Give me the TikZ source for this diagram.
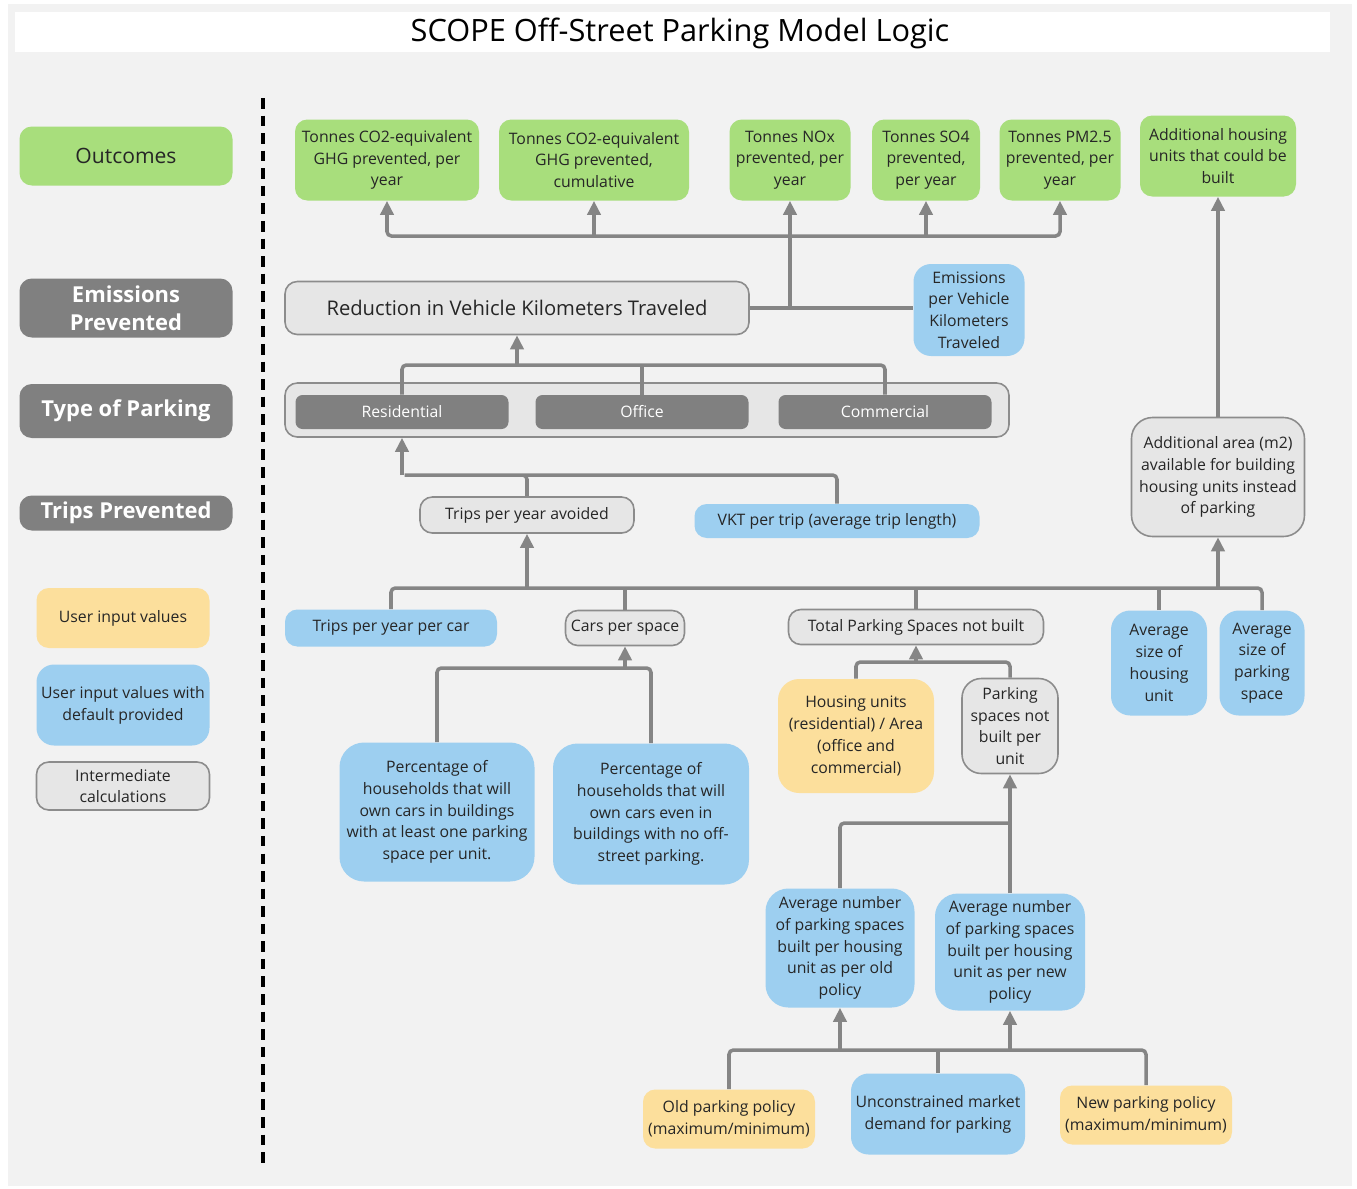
\documentclass[tikz,border=0pt]{standalone}
\usepackage{fontspec}
\setmainfont{Open Sans}
\usetikzlibrary{arrows.meta}
\definecolor{bggray}{HTML}{F2F2F2}
\definecolor{outgreen}{HTML}{A8DE7C}
\definecolor{inblue}{HTML}{9DCFF0}
\definecolor{inyellow}{HTML}{FCDF9C}
\definecolor{stagegray}{HTML}{808080}
\definecolor{calcfill}{HTML}{E6E6E6}
\definecolor{calcline}{HTML}{8C8C8C}
\definecolor{linkgray}{HTML}{858585}
\definecolor{inktext}{HTML}{262626}
\begin{document}
\begin{tikzpicture}[x=0.02cm,y=-0.02cm,
    box/.style n args={2}{align=center,inner sep=0pt,rounded corners=7pt,
      text=inktext,font=\fontsize{9}{12.4}\selectfont,
      minimum width=#1*0.02cm,minimum height=#2*0.02cm},
    outbox/.style={fill=outgreen},
    userbox/.style={fill=inyellow},
    defbox/.style={fill=inblue},
    calcbox/.style={fill=calcfill,draw=calcline,line width=0.9pt},
    stagebox/.style={fill=stagegray,text=white},
    link/.style={draw=linkgray,line width=2pt,rounded corners=2.5pt},
    arr/.style={link,-{Triangle[length=8pt,width=7.5pt]}}]
    \useasboundingbox (0,0) rectangle (1357,1188);
    \fill[white] (0,0) rectangle (1357,1188);
    \fill[bggray] (8,4) rectangle (1352,1186);
    \fill[white] (15,12) rectangle (1330,52);
    \node (title) at (680,33) {\fontsize{17.5}{20}\selectfont SCOPE Off-Street Parking Model Logic};

    \node[box={213}{59},outbox,font=\fontsize{12}{15}\selectfont] (legout) at (126,156) {Outcomes};
    \node[box={213}{59},stagebox,font=\fontsize{12.5}{16}\selectfont\bfseries] (legemis) at (126,308) {Emissions\\Prevented};
    \node[box={213}{54},stagebox,font=\fontsize{12.5}{15}\selectfont\bfseries] (legtype) at (126,411) {Type of Parking};
    \node[box={213}{35},stagebox,font=\fontsize{12.5}{15}\selectfont\bfseries] (legtrips) at (126,513) {Trips Prevented};
    \node[box={173}{60},userbox] (leguser) at (123,618) {User input values};
    \node[box={173}{81},defbox,rounded corners=10pt] (legdef) at (123,705) {User input values with\\default provided};
    \node[box={173}{48},calcbox] (legcalc) at (123,786) {Intermediate\\calculations};
    \draw[line width=2pt,dash pattern=on 6pt off 4pt] (263,98) -- (263,1168);

    \node[box={184}{81},outbox] (o1) at (387,160) {Tonnes CO2-equivalent\\GHG prevented, per\\year};
    \node[box={190}{81},outbox] (o2) at (594,160) {Tonnes CO2-equivalent\\GHG prevented,\\cumulative};
    \node[box={121}{81},outbox] (o3) at (790,160) {Tonnes NOx\\prevented, per\\year};
    \node[box={108}{81},outbox] (o4) at (926,160) {Tonnes SO4\\prevented,\\per year};
    \node[box={121}{81},outbox] (o5) at (1060,160) {Tonnes PM2.5\\prevented, per\\year};
    \node[box={156}{81},outbox] (o6) at (1218,156) {Additional housing\\units that could be\\built};

    \node[box={464}{53},calcbox,font=\fontsize{11.5}{14}\selectfont] (red) at (517,308) {Reduction in Vehicle Kilometers Traveled};
    \node[box={111}{92},defbox,rounded corners=10pt] (emis) at (969,310) {Emissions\\per Vehicle\\Kilometers\\Traveled};

    \node[box={724}{54},calcbox] (type) at (647,410) {};
    \node[box={213}{34},stagebox,rounded corners=4pt] (res) at (402,412) {Residential};
    \node[box={213}{34},stagebox,rounded corners=4pt] (off) at (642,412) {Office};
    \node[box={213}{34},stagebox,rounded corners=4pt] (com) at (885,412) {Commercial};

    \node[box={214}{36},calcbox] (tav) at (527,515) {Trips per year avoided};
    \node[box={285}{34},defbox] (vkt) at (837,521) {VKT per trip (average trip length)};
    \node[box={173}{119},calcbox,rounded corners=12pt] (addl) at (1218,477) {Additional area (m2)\\available for building\\housing units instead\\of parking};

    \node[box={212}{37},defbox] (tpc) at (391,628) {Trips per year per car};
    \node[box={119}{35},calcbox] (cps) at (625,628) {Cars per space};
    \node[box={255}{35},calcbox] (tps) at (916,627) {Total Parking Spaces not built};
    \node[box={96}{105},defbox,rounded corners=11pt] (ahu) at (1159,663) {Average\\size of\\housing\\unit};
    \node[box={85}{105},defbox,rounded corners=11pt] (aps) at (1262,663) {Average\\size of\\parking\\space};

    \node[box={156}{114},userbox,rounded corners=12pt] (hu) at (856,736) {Housing units\\(residential) / Area\\(office and\\commercial)};
    \node[box={96}{95},calcbox,rounded corners=11pt] (psn) at (1010,726) {Parking\\spaces not\\built per\\unit};
    \node[box={195}{139},defbox,rounded corners=14pt] (pct1) at (437,812) {Percentage of\\households that will\\own cars in buildings\\with at least one parking\\space per unit.};
    \node[box={196}{141},defbox,rounded corners=14pt] (pct2) at (651,814) {Percentage of\\households that will\\own cars even in\\buildings with no off-\\street parking.};

    \node[box={149}{119},defbox,rounded corners=13pt] (avo) at (840,948) {Average number\\of parking spaces\\built per housing\\unit as per old\\policy};
    \node[box={150}{117},defbox,rounded corners=13pt] (avn) at (1010,952) {Average number\\of parking spaces\\built per housing\\unit as per new\\policy};
    \node[box={172}{59},userbox] (old) at (729,1119) {Old parking policy\\(maximum/minimum)};
    \node[box={174}{81},defbox,rounded corners=10pt] (unc) at (938,1114) {Unconstrained market\\demand for parking};
    \node[box={172}{59},userbox] (new) at (1146,1115) {New parking policy\\(maximum/minimum)};

    \coordinate (ob) at (790,236);
    \draw[arr] (ob) -| (o1.south);
    \draw[arr] (ob) -| (o5.south);
    \draw[arr] (ob -| o2.south) -- (o2.south);
    \draw[arr] (ob -| o4.south) -- (o4.south);
    \draw[link] (red.east) -- (red.east -| emis.west);
    \draw[arr] (red.east -| o3.south) -- (o3.south);

    \coordinate (tb) at (517,365);
    \draw[link] (res.north) |- (tb) -| (com.north);
    \draw[link] (off.north) -- (off.north |- tb);
    \draw[arr] (tb) -- (red.south);

    \coordinate (rb) at (402,475);
    \draw[link] (tav.north) |- (rb) -| (vkt.north);
    \draw[arr] (rb) -- (rb |- type.south);

    \coordinate (cb) at (527,588);
    \coordinate (ab) at (1218,588);
    \draw[link] (tpc.north) |- (cb) -| (aps.north);
    \draw[link] (cps.north) -- (cps.north |- cb);
    \draw[link] (tps.north) -- (tps.north |- cb);
    \draw[link] (ahu.north) -- (ahu.north |- cb);
    \draw[arr] (cb) -- (tav.south);
    \draw[arr] (ab) -- (addl.south);
    \draw[arr] (addl.north) -- (o6.south);

    \coordinate (pb) at (625,668);
    \draw[link] (pct1.north) |- (pb) -| (pct2.north);
    \draw[arr] (pb) -- (cps.south);

    \coordinate (hb) at (916,662);
    \draw[link] (hu.north) |- (hb) -| (psn.north);
    \draw[arr] (hb) -- (tps.south);

    \coordinate (nb) at (1010,823);
    \draw[link] (avo.north) |- (nb);
    \draw[arr] (avn.north) -- (psn.south);

    \coordinate (qb1) at (840,1050);
    \coordinate (qb2) at (1010,1050);
    \draw[link] (old.north) |- (qb1) -- (qb2) -| (new.north);
    \draw[link] (unc.north) -- (unc.north |- qb1);
    \draw[arr] (qb1) -- (avo.south);
    \draw[arr] (qb2) -- (avn.south);
\end{tikzpicture}
\end{document}
